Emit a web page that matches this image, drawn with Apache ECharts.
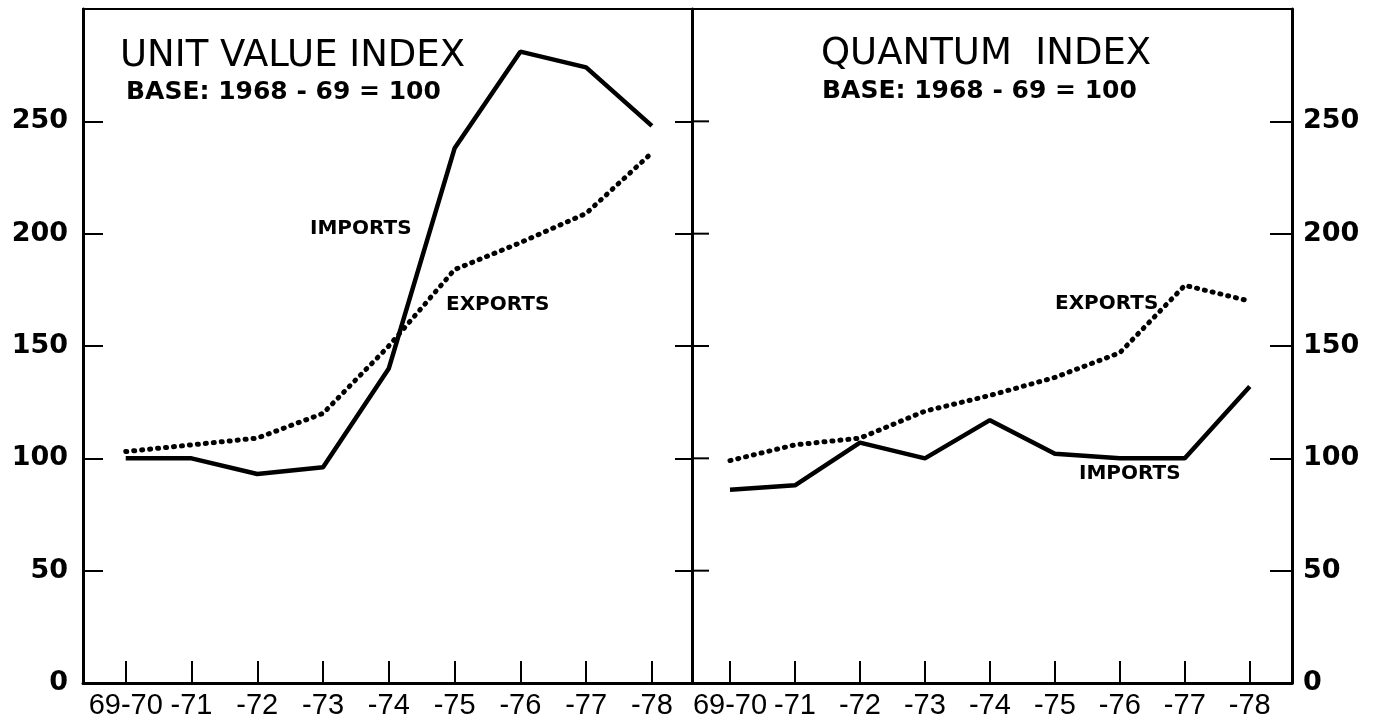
<!DOCTYPE html>
<html>
<head>
<meta charset="utf-8">
<title>Unit value index and quantum index</title>
<script src="https://cdn.jsdelivr.net/npm/echarts@6/dist/echarts.min.js"></script>
<style>
  html, body { margin: 0; padding: 0; background: #fff; }
  #chart { width: 1375px; height: 726px; }
</style>
</head>
<body>
<div id="chart"></div>
<script>
// years 1969-70 ... 1977-78
const yearLabels = ['69-70', '-71', '-72', '-73', '-74', '-75', '-76', '-77', '-78']
// unit value index (base 1968-69 = 100)
const unitImports = [100, 100, 93, 96, 140, 238, 281, 274, 248]
const unitExports = [103, 106, 109, 120, 150, 184, 196, 209, 236]
// quantum index (base 1968-69 = 100)
const quantImports = [86, 88, 107, 100, 117, 102, 100, 100, 132]
const quantExports = [99, 106, 109, 121, 128, 136, 147, 177, 170]
// y axis
const yLabels = [0, 50, 100, 150, 200, 250]
const yTickVals = [50, 100, 150, 200, 250]

const xIdx = yearLabels.map((d, i) => i)
const pairs = arr => arr.map((v, i) => [i, v])

const chart = echarts.init(document.getElementById('chart'))

function xAxis(grid, min, max) {
  return {
    type: 'value',
    gridIndex: grid,
    min: min,
    max: max,
    splitLine: { show: false },
    axisLine: { onZero: false, lineStyle: { color: '#000', width: 3 } },
    axisTick: {
      inside: true,
      length: 22,
      customValues: xIdx,
      lineStyle: { color: '#000', width: 2 }
    },
    axisLabel: {
      customValues: xIdx,
      formatter: v => yearLabels[v],
      color: '#000',
      fontFamily: 'Liberation Sans',
      fontSize: 29,
      margin: 8
    }
  }
}

// o: tick length, labels?
function yAxis(grid, pos, o) {
  return {
    type: 'value',
    gridIndex: grid,
    position: pos,
    min: 0,
    max: 300,
    interval: 50,
    splitLine: { show: false },
    axisLine: { show: true, onZero: false, lineStyle: { color: '#000', width: 3 } },
    axisTick: {
      show: true,
      inside: true,
      length: o.tick,
      customValues: yTickVals,
      lineStyle: { color: '#000', width: 2 }
    },
    axisLabel: o.labels
      ? {
          customValues: yLabels,
          color: '#000',
          fontFamily: 'DejaVu Sans',
          fontWeight: 'bold',
          fontSize: 27,
          margin: pos === 'left' ? 15 : 11
        }
      : { show: false }
  }
}

function line(name, data, xi, yi, dotted) {
  return {
    name: name,
    type: 'line',
    xAxisIndex: xi,
    yAxisIndex: yi,
    data: pairs(data),
    symbol: 'none',
    silent: true,
    lineStyle: dotted
      ? { color: '#000', width: 5, type: [1, 7], cap: 'round' }
      : { color: '#000', width: 4.5 }
  }
}

function txt(x, y, s, font) {
  return { type: 'text', left: x, top: y, style: { text: s, fill: '#000', font: font } }
}

const titleFont = 'normal 37px "DejaVu Sans"'
const baseFont = 'bold 25px "DejaVu Sans"'
const tagFont = 'bold 20px "DejaVu Sans"'

const xMin2 = -0.585

chart.setOption({
  backgroundColor: '#fff',
  animation: false,
  grid: [
    { left: 83, right: 683, top: 9, bottom: 43, show: true, borderColor: '#000', borderWidth: 2 },
    { left: 692, right: 83, top: 9, bottom: 43, show: true, borderColor: '#000', borderWidth: 2 }
  ],
  xAxis: [xAxis(0, -0.65, 8.61), xAxis(1, xMin2, 8.65)],
  yAxis: [
    yAxis(0, 'left', { tick: 20, labels: true }),
    yAxis(0, 'right', { tick: 17, labels: false }),
    yAxis(1, 'right', { tick: 22, labels: true })
  ],
  series: [
    line('IMPORTS', unitImports, 0, 0, false),
    line('EXPORTS', unitExports, 0, 0, true),
    line('IMPORTS', quantImports, 1, 2, false),
    line('EXPORTS', quantExports, 1, 2, true)
  ]
})

// right half of the ticks crossing the middle line, placed through the axis scale
const midX = chart.convertToPixel({ xAxisIndex: 1 }, xMin2)
const midTicks = yTickVals.map(v => {
  const y = chart.convertToPixel({ yAxisIndex: 2 }, v)
  return {
    type: 'line',
    silent: true,
    z: 10,
    shape: { x1: midX, y1: y, x2: midX + 17, y2: y },
    style: { stroke: '#000', lineWidth: 2 }
  }
})

chart.setOption({
  graphic: [
    txt(120, 38, 'UNIT VALUE INDEX', titleFont),
    txt(126, 80, 'BASE: 1968 - 69 = 100', baseFont),
    txt(821, 36, 'QUANTUM  INDEX', titleFont),
    txt(822, 79, 'BASE: 1968 - 69 = 100', baseFont),
    txt(310, 219, 'IMPORTS', tagFont),
    txt(446, 295, 'EXPORTS', tagFont),
    txt(1055, 294, 'EXPORTS', tagFont),
    txt(1079, 464, 'IMPORTS', tagFont)
  ].concat(midTicks)
})
</script>
</body>
</html>
